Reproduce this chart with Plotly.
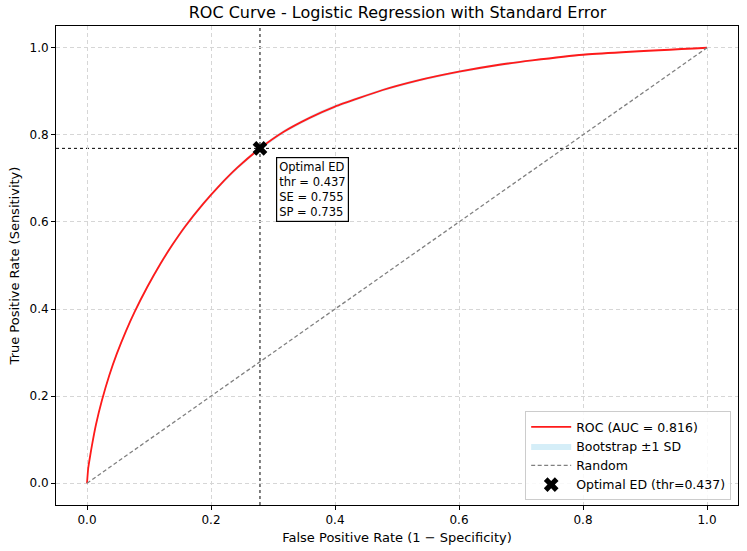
import plotly.graph_objects as go

# ROC curve values
fpr = [0.0, 0.002, 0.005, 0.008, 0.0145, 0.024, 0.036, 0.048, 0.063, 0.077,
       0.097, 0.118, 0.138, 0.158, 0.187, 0.214, 0.242, 0.279, 0.316, 0.359,
       0.4, 0.477, 0.531, 0.6, 0.665, 0.718, 0.8, 1.0]
tpr = [0.0, 0.035, 0.062, 0.087, 0.135, 0.19, 0.248, 0.297, 0.35, 0.394,
       0.45, 0.503, 0.548, 0.589, 0.641, 0.684, 0.724, 0.769, 0.806, 0.839,
       0.865, 0.903, 0.924, 0.945, 0.961, 0.971, 0.984, 1.0]
sd = [0.0, 0.003, 0.003, 0.004, 0.004, 0.004, 0.004, 0.004, 0.004, 0.004,
      0.004, 0.004, 0.004, 0.004, 0.004, 0.004, 0.004, 0.004, 0.004, 0.004,
      0.004, 0.003, 0.003, 0.003, 0.003, 0.002, 0.002, 0.0]

auc = 0.816
opt_fpr = 0.279
opt_tpr = 0.769
opt_thr = 0.437
opt_se = 0.755
opt_sp = 0.735

x_ticks = [0.0, 0.2, 0.4, 0.6, 0.8, 1.0]
y_ticks = [0.0, 0.2, 0.4, 0.6, 0.8, 1.0]

lower = [max(0.0, t - s) for t, s in zip(tpr, sd)]
upper = [min(1.0, t + s) for t, s in zip(tpr, sd)]

FONT = "DejaVu Sans"

fig = go.Figure()

# bootstrap band
fig.add_trace(go.Scatter(x=fpr, y=lower, mode="lines", line=dict(width=0, shape="spline", smoothing=0.5),
                         showlegend=False, hoverinfo="skip"))
fig.add_trace(go.Scatter(x=fpr, y=upper, mode="lines", line=dict(width=0, shape="spline", smoothing=0.5),
                         fill="tonexty", fillcolor="rgba(135,206,235,0.35)",
                         name="Bootstrap ±1 SD", legendrank=2))

fig.add_trace(go.Scatter(x=fpr, y=tpr, mode="lines",
                         line=dict(color="#ff1a1a", width=1.8, shape="spline", smoothing=0.5),
                         name=f"ROC (AUC = {auc:.3f})", legendrank=1))

fig.add_trace(go.Scatter(x=[0, 1], y=[0, 1], mode="lines",
                         line=dict(color="gray", width=1.3, dash="4px,2.5px"),
                         name="Random", legendrank=3))

fig.add_trace(go.Scatter(x=[opt_fpr], y=[opt_tpr], mode="markers",
                         marker=dict(symbol="x", size=13, color="black",
                                     line=dict(width=0)),
                         name=f"Optimal ED (thr={opt_thr:.3f})", legendrank=4))

# crosshair
fig.add_shape(type="line", xref="x", yref="paper", x0=opt_fpr, x1=opt_fpr,
              y0=0, y1=1, line=dict(color="black", width=1, dash="dot"), layer="below")
fig.add_shape(type="line", xref="paper", yref="y", x0=0, x1=1,
              y0=opt_tpr, y1=opt_tpr, line=dict(color="black", width=1, dash="dot"), layer="below")

fig.add_annotation(x=opt_fpr, y=opt_tpr, xref="x", yref="y",
                   text=f"Optimal ED<br>thr = {opt_thr:.3f}<br>SE = {opt_se:.3f}<br>SP = {opt_sp:.3f}",
                   showarrow=False, xanchor="left", yanchor="top", align="left",
                   xshift=16, yshift=-9,
                   font=dict(family=FONT, size=11.5, color="black"),
                   bgcolor="white", bordercolor="black", borderwidth=1.2, borderpad=2)

axis_common = dict(showgrid=True, gridcolor="#d6d6d6", griddash="4px,3px", gridwidth=1,
                   showline=True, linecolor="black", linewidth=1, mirror=True,
                   ticks="outside", ticklen=4, tickcolor="black",
                   zeroline=False, tickfont=dict(family=FONT, size=12, color="black"))

fig.update_xaxes(range=[-0.05, 1.05], tickvals=x_ticks,
                 ticktext=[f"{v:.1f}" for v in x_ticks],
                 title=dict(text="False Positive Rate (1 − Specificity)",
                            font=dict(family=FONT, size=13, color="black"), standoff=6),
                 **axis_common)
fig.update_yaxes(range=[-0.05, 1.05], tickvals=y_ticks,
                 ticktext=[f"{v:.1f}" for v in y_ticks],
                 title=dict(text="True Positive Rate (Sensitivity)",
                            font=dict(family=FONT, size=13, color="black"), standoff=6),
                 **axis_common)

fig.update_layout(
    width=747, height=551,
    margin=dict(l=56, r=8, t=26, b=44),
    paper_bgcolor="white", plot_bgcolor="white",
    title=dict(text="ROC Curve - Logistic Regression with Standard Error",
               x=(56 + 739) / 2 / 747, xanchor="center", y=0.978, yanchor="middle",
               font=dict(family=FONT, size=16, color="black")),
    legend=dict(x=0.99, y=0.01, xanchor="right", yanchor="bottom",
                bgcolor="rgba(255,255,255,0.85)", bordercolor="#cccccc", borderwidth=1,
                font=dict(family=FONT, size=12.5, color="black"),
                traceorder="normal", itemwidth=40),
    showlegend=True,
)

fig.write_html("out.html")
